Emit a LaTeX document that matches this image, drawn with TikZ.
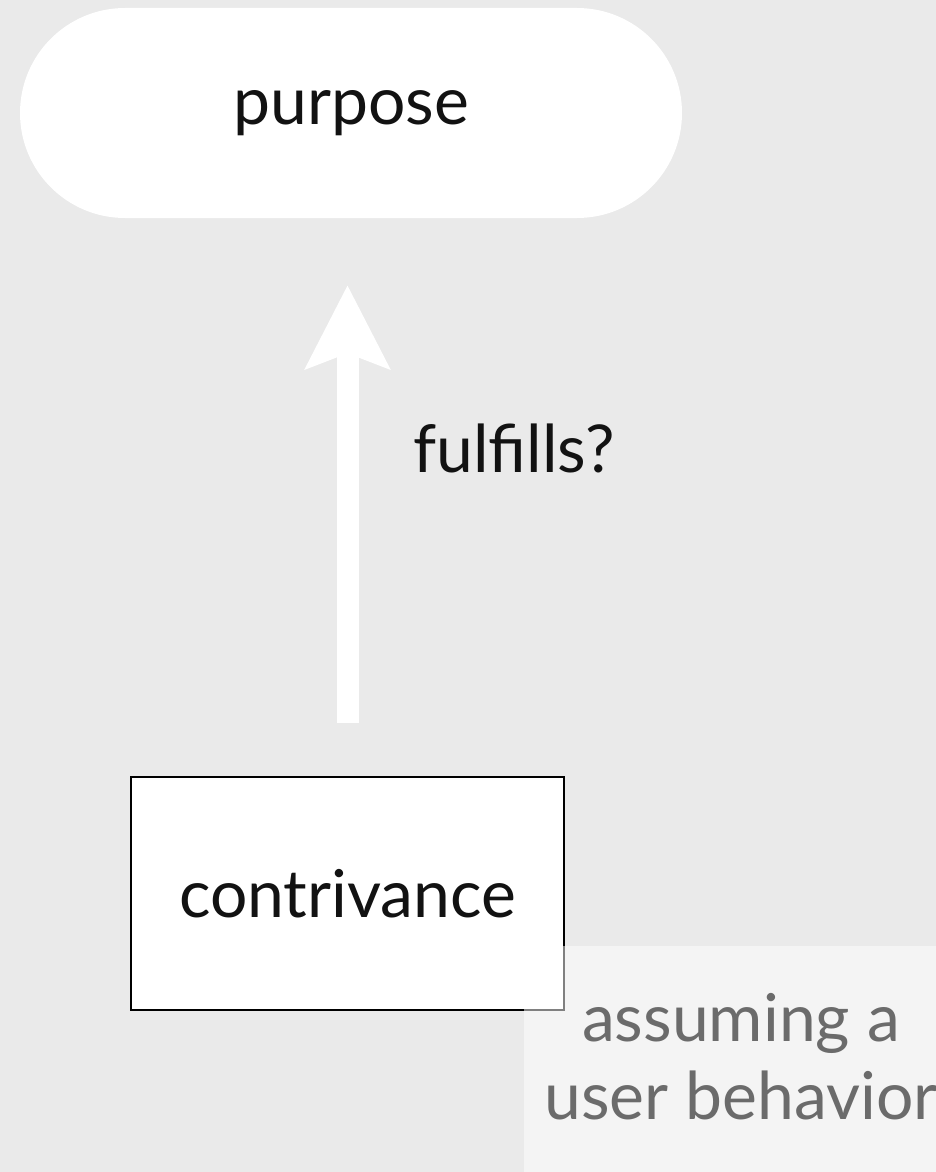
\documentclass[tikz,border=0pt]{standalone}
\usepackage{fontspec}
\setmainfont{Lato}
\usepackage{xcolor}
\usetikzlibrary{arrows.meta, positioning, calc}

\definecolor{canvas}{HTML}{EAEAEA}
\definecolor{inkgrey}{HTML}{6B6B6B}

\begin{document}
\begin{tikzpicture}[x=1pt, y=-1pt,
    every node/.style={font=\fontsize{66}{78}\selectfont, text=black!93},
    goal/.style={fill=white, rounded corners=105pt, minimum width=662pt, minimum height=210pt, inner sep=0pt},
    device/.style={draw=black, line width=2pt, fill=white, minimum width=433pt, minimum height=233pt, inner sep=0pt},
    panel/.style={fill=white, fill opacity=0.5, minimum width=432pt, minimum height=246pt, inner sep=0pt},
    bigarrow/.style={white, line width=22pt, -{Stealth[length=83pt, width=83pt, inset=15pt]}}]
    % Canvas
    \fill[canvas] (0,0) rectangle (936,1172);
    \useasboundingbox (0,0) rectangle (936,1172);
    \clip (0,0) rectangle (936,1172);

    % Purpose and contrivance
    \node[goal] (purpose) at (351,113) {purpose};
    \node[device] (contrivance) at (347.5,893.5) {contrivance};

    % Fulfills arrow
    \draw[bigarrow, shorten <=53pt, shorten >=67pt] (contrivance.north) -- (contrivance.north |- purpose.south);
    \node[anchor=west, inner sep=0pt] (fulfills) at (413,448) {fulfills?};

    % Assumption (overlay)
    \node[panel, anchor=north west] (userpanel) at (524,946) {};
    \node[align=center, text=inkgrey, inner sep=0pt] (assumption) at (741,1057) {assuming a\\user behavior};

\end{tikzpicture}
\end{document}
